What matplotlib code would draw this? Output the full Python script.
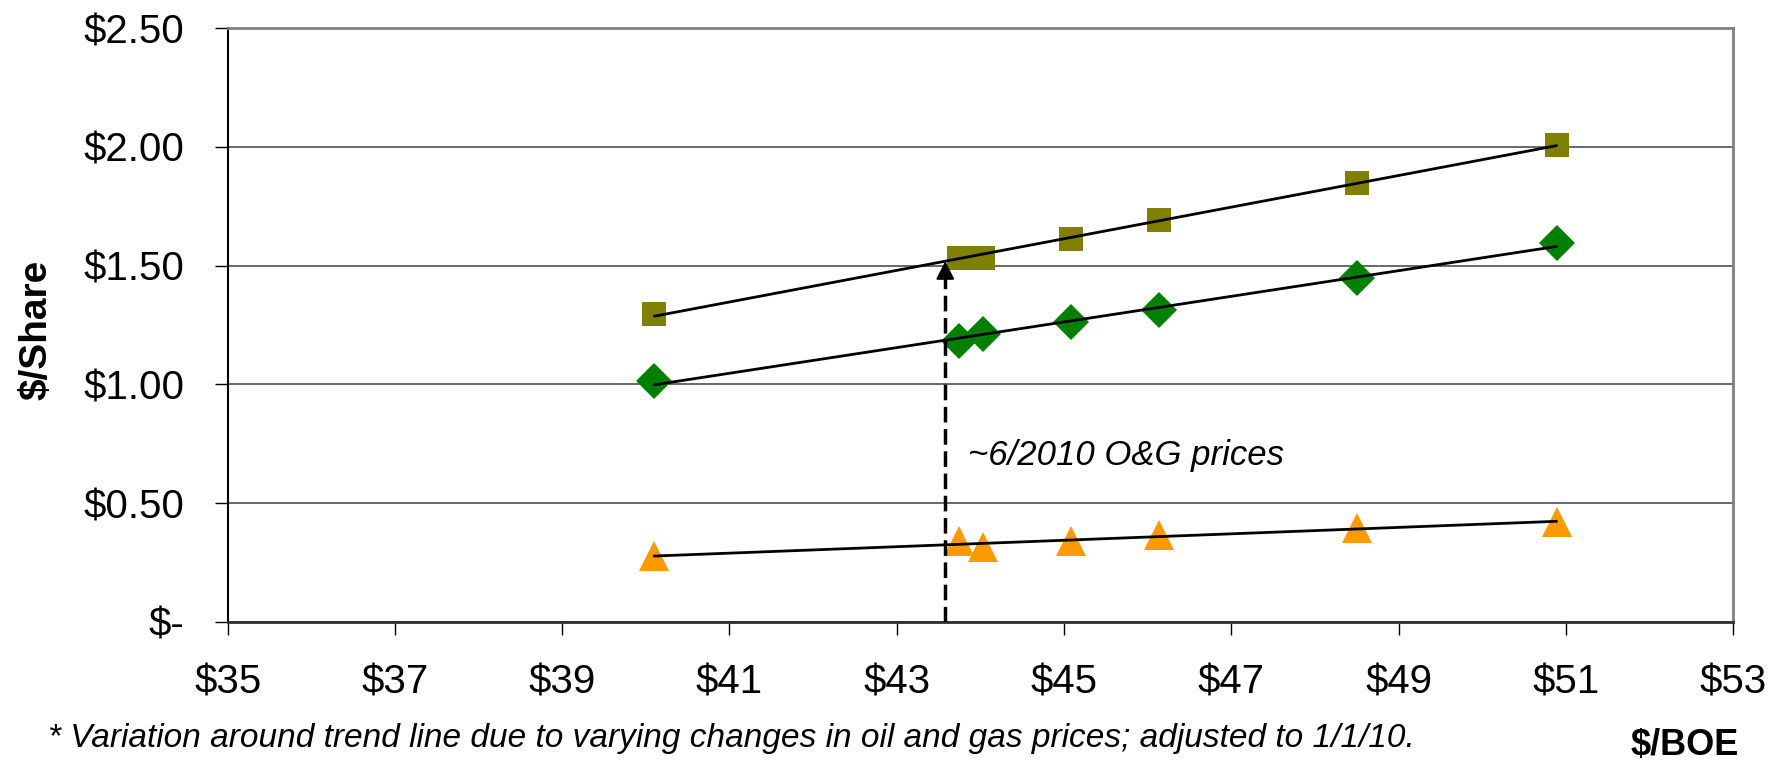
import numpy as np
import matplotlib
matplotlib.use("Agg")
import matplotlib.pyplot as plt
from matplotlib.ticker import FixedLocator, FixedFormatter

plt.rcParams['font.family'] = ['Liberation Sans', 'DejaVu Sans']

# $/BOE realised price and resulting $/share for three cases
boe_price = [40.10, 43.74, 44.03, 45.08, 46.13, 48.50, 50.89]
case_high = [1.296, 1.533, 1.533, 1.612, 1.692, 1.850, 2.008]
case_mid = [1.013, 1.183, 1.211, 1.263, 1.315, 1.449, 1.594]
case_low = [0.277, 0.341, 0.315, 0.341, 0.366, 0.394, 0.421]

x_ticks = [35, 37, 39, 41, 43, 45, 47, 49, 51, 53]
x_tick_labels = ['$35', '$37', '$39', '$41', '$43', '$45', '$47', '$49', '$51', '$53']
y_ticks = [0.0, 0.5, 1.0, 1.5, 2.0, 2.5]
y_tick_labels = ['$-', '$0.50', '$1.00', '$1.50', '$2.00', '$2.50']

current_price = 43.58
annotation = '~6/2010 O&G prices'
footnote = ('* Variation around trend line due to varying changes in oil and gas '
            'prices; adjusted to 1/1/10.')

fig = plt.figure(figsize=(17.83, 7.60), dpi=100)
ax = fig.add_axes([0.1277, 0.1816, 0.972 - 0.1277, 0.963 - 0.1816])

ax.set_xlim(35, 53)
ax.set_ylim(0, 2.5)

series = [
    (case_high, 's', '#808000', 17.5),
    (case_mid, 'D', '#008000', 18.5),
    (case_low, '^', '#FF9900', 22.0),
]
x = np.array(boe_price)
trend = {}
for vals, marker, color, ms in series:
    y = np.array(vals)
    ax.plot(x, y, linestyle='none', marker=marker, color=color,
            markersize=ms, markeredgewidth=0, zorder=3)
    slope, intercept = np.polyfit(x, y, 1)
    xs = np.array([x.min(), x.max()])
    ax.plot(xs, slope * xs + intercept, color='black', lw=2.0, zorder=4,
            solid_capstyle='round')
    trend[marker] = (slope, intercept)

# dashed arrow up to the upper trend line at the current price
s_hi, b_hi = trend['s']
y_tip = s_hi * current_price + b_hi
ax.plot([current_price, current_price], [0, y_tip - 0.05], color='black',
        lw=2.5, linestyle=(0, (4.5, 1.9)), zorder=5)
ax.annotate('', xy=(current_price, y_tip), xytext=(current_price, y_tip - 0.07),
            arrowprops=dict(arrowstyle='-|>,head_length=0.55,head_width=0.28',
                            color='black', lw=1.5, mutation_scale=20,
                            shrinkA=0, shrinkB=0), zorder=6)
ax.text(43.85, 0.66, annotation, fontsize=25, style='italic', ha='left',
        va='baseline', zorder=6)

# axes styling
ax.yaxis.set_major_locator(FixedLocator(y_ticks))
ax.yaxis.set_major_formatter(FixedFormatter(y_tick_labels))
ax.xaxis.set_major_locator(FixedLocator(x_ticks))
ax.xaxis.set_major_formatter(FixedFormatter(x_tick_labels))
ax.tick_params(axis='y', direction='out', length=9.4, width=1.0, pad=22,
               labelsize=29, colors='black')
ax.tick_params(axis='x', direction='out', length=9, width=1.0, pad=21,
               labelsize=29, colors='black')
ax.grid(axis='y', color='#404040', lw=1.1, zorder=0)
ax.set_axisbelow(True)
for side in ('top', 'right'):
    ax.spines[side].set_color('#808080')
    ax.spines[side].set_linewidth(2.0)
ax.spines['left'].set_color('black')
ax.spines['left'].set_linewidth(1.5)
ax.spines['bottom'].set_color('#303030')
ax.spines['bottom'].set_linewidth(2.0)

ax.set_ylabel('$/Share', fontsize=28, fontweight='bold')
ax.yaxis.set_label_coords(-0.1148, 0.492)

fig.text(0.945, 0.0066, '$/BOE', fontsize=26, fontweight='bold',
         ha='center', va='baseline')
fig.text(0.027, 0.017, footnote, fontsize=24, style='italic',
         ha='left', va='baseline')

fig.savefig('out.png', dpi=100)
